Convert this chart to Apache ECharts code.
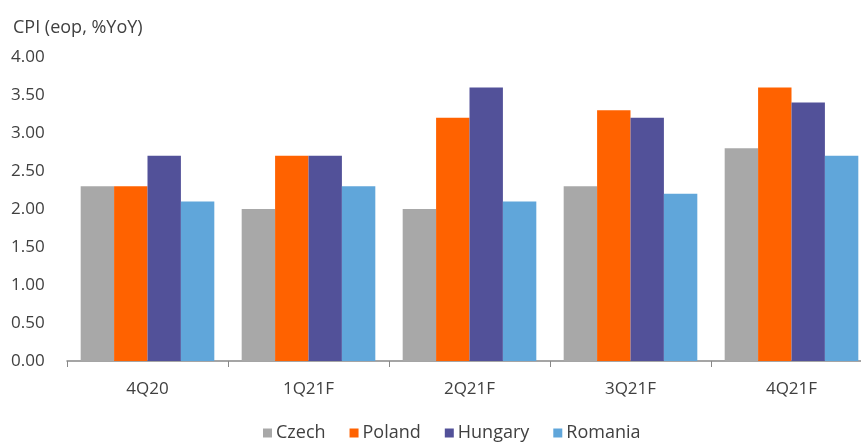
<!DOCTYPE html>
<html><head><meta charset="utf-8">
<script src="https://cdn.jsdelivr.net/npm/echarts@6/dist/echarts.min.js"></script>
<style>html,body{margin:0;padding:0;background:#fff;overflow:hidden}#c{width:872px;height:443px}</style>
</head><body><div id="c"></div>
<script>
var categories = ['4Q20', '1Q21F', '2Q21F', '3Q21F', '4Q21F'];
var czech   = [2.3, 2.0, 2.0, 2.3, 2.8];
var poland  = [2.3, 2.7, 3.2, 3.3, 3.6];
var hungary = [2.7, 2.7, 3.6, 3.2, 3.4];
var romania = [2.1, 2.3, 2.1, 2.2, 2.7];
var seriesNames = ['Czech', 'Poland', 'Hungary', 'Romania'];
var colors = ['#A8A8A8', '#FF6200', '#525199', '#60A6DA'];
var font = '"Open Sans", "Noto Sans", sans-serif';
var chart = echarts.init(document.getElementById('c'), null, {renderer: 'canvas'});
function mk(name, data, i) {
  return {name: name, type: 'bar', data: data, barGap: '0%', barCategoryGap: '17%',
    itemStyle: {color: colors[i]}, animation: false};
}
chart.setOption({
  animation: false,
  title: {text: 'CPI (eop, %YoY)', left: 13, top: 19, padding: 0,
    textStyle: {fontFamily: font, fontSize: 18, fontWeight: 'normal', color: '#404040'}},
  grid: {left: 67, right: 0, top: 57, bottom: 82, containLabel: false},
  legend: {data: seriesNames, left: 263, top: 424, padding: 0, itemWidth: 9, itemHeight: 9, itemGap: 24,
    icon: 'rect', textStyle: {fontFamily: font, fontSize: 18, color: '#404040', padding: [0,0,0,-1]}},
  xAxis: {type: 'category', data: categories,
    axisLine: {lineStyle: {color: '#888888', width: 1.5}},
    axisTick: {show: true, length: 6, lineStyle: {color: '#888888'}},
    axisLabel: {fontFamily: font, fontSize: 17, color: '#404040', margin: 20}},
  yAxis: {type: 'value', min: 0, max: 4, interval: 0.5,
    axisLine: {show: false}, axisTick: {show: false}, splitLine: {show: false},
    axisLabel: {fontFamily: font, fontSize: 17, color: '#404040', align: 'left', margin: 56,
      formatter: function (v) { return v.toFixed(2); }}},
  series: [mk('Czech', czech, 0), mk('Poland', poland, 1), mk('Hungary', hungary, 2), mk('Romania', romania, 3)]
});
</script></body></html>
